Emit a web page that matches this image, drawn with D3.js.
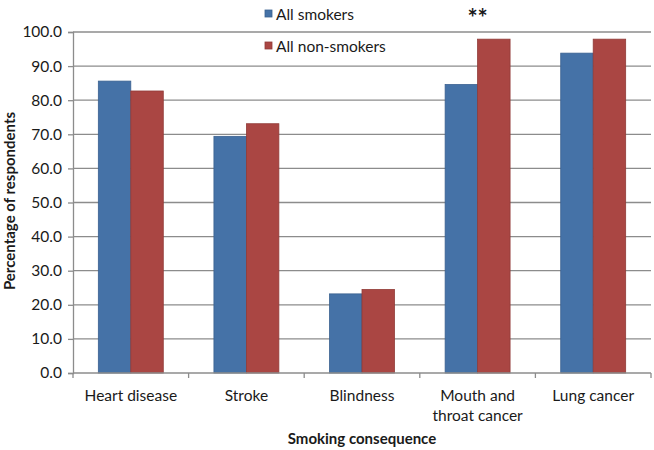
<!DOCTYPE html>
<head>
  <meta charset="utf-8">
  <script src="https://d3js.org/d3.v7.min.js"></script>
  <style>
    body { margin: 0; background: #fff; }
    text { font-family: Lato, "Open Sans", sans-serif; fill: #1a1a1a; }
  </style>
</head>
<body>
  <div id="root"></div>
  <script>
    // data
    var categories = ["Heart disease", "Stroke", "Blindness", "Mouth and\nthroat cancer", "Lung cancer"];
    var seriesNames = ["All smokers", "All non-smokers"];
    var smokers = [85.6, 69.4, 23.2, 84.6, 93.8];
    var nonSmokers = [82.7, 73.1, 24.5, 97.9, 97.9];
    var yTicks = [0, 10, 20, 30, 40, 50, 60, 70, 80, 90, 100];
    var colors = ["#4572A7", "#AA4643"];
    var strokes = ["#3a6190", "#913b38"];

    var width = 654, height = 450;
    var margin = {top: 32, right: 3, bottom: 77, left: 73};
    var w = width - margin.left - margin.right,
        h = height - margin.top - margin.bottom;

    var svg = d3.select("#root").append("svg")
      .attr("width", width).attr("height", height);
    var g = svg.append("g")
      .attr("transform", "translate(" + margin.left + "," + margin.top + ")");

    var x0 = d3.scaleBand().domain(d3.range(categories.length)).range([0, w]).paddingInner(0).paddingOuter(0);
    var x1 = d3.scaleBand().domain([0, 1]).range([0, x0.bandwidth()]).paddingOuter(0.78).paddingInner(0);
    var y = d3.scaleLinear().domain([0, 100]).range([h, 0]);

    // gridlines
    g.append("g").selectAll("line").data(yTicks.slice(1)).enter().append("line")
      .attr("x1", 0).attr("x2", w)
      .attr("y1", function(d){ return y(d); }).attr("y2", function(d){ return y(d); })
      .attr("stroke", "#8c8c8c").attr("stroke-width", 1.3);

    // bars
    var rows = categories.map(function(c, i){ return [smokers[i], nonSmokers[i]]; });
    g.append("g").selectAll("g").data(rows).enter().append("g")
      .attr("transform", function(d, i){ return "translate(" + x0(i) + ",0)"; })
      .selectAll("rect").data(function(d){ return d; }).enter().append("rect")
        .attr("x", function(d, j){ return x1(j); })
        .attr("y", function(d){ return y(d); })
        .attr("width", x1.bandwidth())
        .attr("height", function(d){ return h - y(d); })
        .attr("fill", function(d, j){ return colors[j]; })
        .attr("stroke", function(d, j){ return strokes[j]; })
        .attr("stroke-width", 0.8);

    // y axis
    var yAxis = g.append("g")
      .call(d3.axisLeft(y).tickValues(yTicks).tickFormat(d3.format(".1f")).tickSize(5).tickPadding(6));
    yAxis.select(".domain").attr("stroke", "#8c8c8c").attr("stroke-width", 1.3);
    yAxis.selectAll(".tick line").attr("stroke", "#8c8c8c").attr("stroke-width", 1.3);
    yAxis.selectAll("text").style("font-size", "15.5px").attr("fill", "#1a1a1a");

    // x axis
    var xAxisG = g.append("g").attr("transform", "translate(0," + h + ")");
    xAxisG.append("line").attr("x1", 0).attr("x2", w)
      .attr("stroke", "#8c8c8c").attr("stroke-width", 1.3);
    xAxisG.selectAll(".xt").data(d3.range(categories.length + 1)).enter().append("line")
      .attr("x1", function(i){ return i < categories.length ? x0(i) : w; })
      .attr("x2", function(i){ return i < categories.length ? x0(i) : w; })
      .attr("y1", 0).attr("y2", 5)
      .attr("stroke", "#8c8c8c").attr("stroke-width", 1.3);
    xAxisG.selectAll(".xl").data(categories).enter().append("text")
      .attr("text-anchor", "middle")
      .attr("transform", function(d, i){ return "translate(" + (x0(i) + x0.bandwidth() / 2) + ",28)"; })
      .style("font-size", "15.5px")
      .each(function(d){
        var t = d3.select(this);
        d.split("\n").forEach(function(line, k){
          t.append("tspan").attr("x", 0).attr("dy", k === 0 ? 0 : 20).text(line);
        });
      });

    // axis titles
    svg.append("text")
      .attr("x", margin.left + w / 2).attr("y", 444)
      .attr("text-anchor", "middle")
      .style("font-size", "15px").style("font-weight", "bold")
      .text("Smoking consequence");
    svg.append("text")
      .attr("transform", "translate(15,201) rotate(-90)")
      .attr("text-anchor", "middle")
      .style("font-size", "15px").style("font-weight", "bold")
      .text("Percentage of respondents");

    // significance marker above mouth and throat cancer
    svg.append("text")
      .attr("x", margin.left + x0(3) + x0.bandwidth() / 2).attr("y", 27)
      .attr("text-anchor", "middle")
      .style("font-size", "24px").style("font-weight", "bold")
      .text("**");

    // legend
    var legend = svg.append("g").selectAll("g").data(seriesNames).enter().append("g")
      .attr("transform", function(d, i){ return "translate(265," + (10 + i * 32) + ")"; });
    legend.append("rect").attr("width", 7).attr("height", 7)
      .attr("fill", function(d, i){ return colors[i]; })
      .attr("stroke", function(d, i){ return strokes[i]; }).attr("stroke-width", 0.8);
    legend.append("text").attr("x", 11).attr("y", 10)
      .style("font-size", "15.5px")
      .text(function(d){ return d; });
  </script>
</body>
